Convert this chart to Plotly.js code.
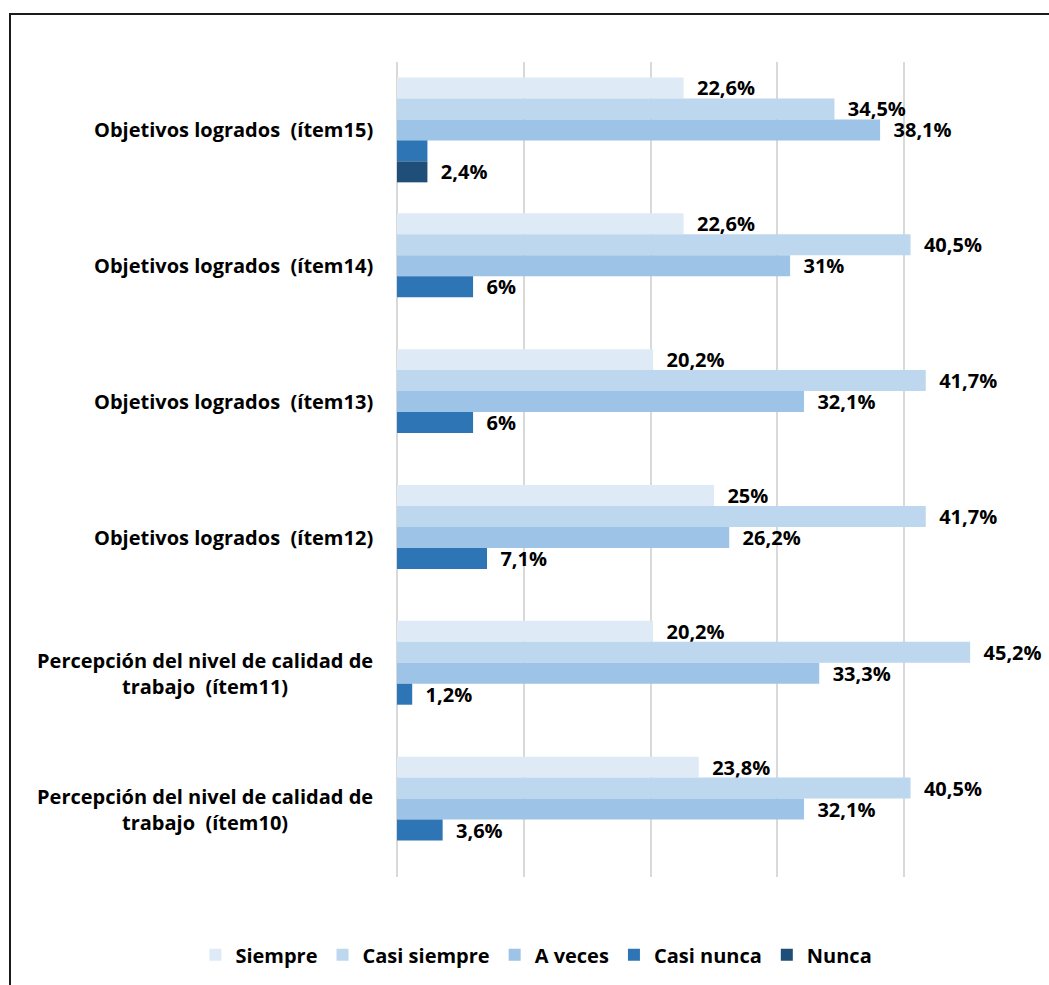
<!DOCTYPE html>
<html>
<head>
<meta charset="utf-8">
<script src="https://cdn.plot.ly/plotly-3.0.1.min.js"></script>
<style>
  html, body { margin: 0; padding: 0; background: #ffffff; }
  #chart { width: 1049px; height: 985px; position: absolute; left: 0; top: 0; }
  #frame { position: absolute; left: 9px; top: 13px; width: 1100px; height: 1000px;
           border: 2px solid #1a1a1a; pointer-events: none; box-sizing: border-box; }
</style>
</head>
<body>
<div id="chart"></div>
<div id="frame"></div>
<script>
// Categories, top to bottom
const categories = [
  "Objetivos logrados  (ítem15)",
  "Objetivos logrados  (ítem14)",
  "Objetivos logrados  (ítem13)",
  "Objetivos logrados  (ítem12)",
  "Percepción del nivel de calidad de<br>trabajo  (ítem11)",
  "Percepción del nivel de calidad de<br>trabajo  (ítem10)"
];
const seriesNames = ["Siempre", "Casi siempre", "A veces", "Casi nunca", "Nunca"];
const siempre     = [22.6, 22.6, 20.2, 25.0, 20.2, 23.8];
const casiSiempre = [34.5, 40.5, 41.7, 41.7, 45.2, 40.5];
const aVeces      = [38.1, 31.0, 32.1, 26.2, 33.3, 32.1];
const casiNunca   = [2.4, 6.0, 6.0, 7.1, 1.2, 3.6];
const nunca       = [2.4, 0, 0, 0, 0, 0];
const xTicks      = [0, 10, 20, 30, 40, 50];
// data labels not shown in the original: [series index, category index]
const hiddenLabels = [[3, 0]];

const seriesValues = [siempre, casiSiempre, aVeces, casiNunca, nunca];
const colors = ["#DEEBF7", "#BDD7EE", "#9DC3E6", "#2E75B6", "#1F4E79"];
const FONT = "'Open Sans', Lato, 'DejaVu Sans', sans-serif";

function fmt(v, si, ci) {
  if (!v) return "";
  if (hiddenLabels.some(h => h[0] === si && h[1] === ci)) return "";
  return "\u00a0\u00a0" + String(v).replace(".", ",") + "%";
}

const traces = seriesNames.map((name, i) => ({
  type: "bar",
  orientation: "h",
  name: name,
  y: categories,
  x: seriesValues[i],
  text: seriesValues[i].map((v, ci) => fmt(v, i, ci)),
  textposition: "outside",
  constraintext: "none",
  cliponaxis: false,
  textfont: { family: FONT, size: 20, color: "#000000", weight: "bold" },
  marker: { color: colors[i], line: { width: 0 } },
  hoverinfo: "none"
}));

const annotations = categories.map(c => ({
  xref: "paper", yref: "y",
  x: -0.035, y: c,
  xanchor: "right", yanchor: "middle",
  align: "center",
  text: "<b>" + c + "</b>",
  showarrow: false,
  font: { family: FONT, size: 20, color: "#000000" }
}));

const layout = {
  width: 1049, height: 985,
  margin: { l: 397, r: 18, t: 62, b: 107 },
  paper_bgcolor: "#ffffff",
  plot_bgcolor: "#ffffff",
  barmode: "group",
  bargap: 0.228,
  bargroupgap: 0,
  showlegend: true,
  legend: {
    orientation: "h",
    xref: "paper", yref: "paper",
    x: -0.318, xanchor: "left",
    y: -0.094, yanchor: "middle",
    font: { family: FONT, size: 20, color: "#000000", weight: "bold" },
    itemwidth: 30,
    traceorder: "normal"
  },
  xaxis: {
    range: [0, 50],
    tickvals: xTicks,
    showticklabels: false,
    showgrid: true,
    gridcolor: "#d9d9d9",
    gridwidth: 2,
    zeroline: true,
    zerolinecolor: "#d9d9d9",
    zerolinewidth: 2,
    showline: false,
    fixedrange: true
  },
  yaxis: {
    type: "category",
    categoryorder: "array",
    categoryarray: categories,
    autorange: "reversed",
    showticklabels: false,
    showgrid: false,
    zeroline: false,
    showline: false,
    ticks: "",
    fixedrange: true
  },
  annotations: annotations,
  font: { family: FONT, color: "#000000" }
};

Plotly.newPlot("chart", traces, layout, { displayModeBar: false, staticPlot: true });
</script>
</body>
</html>
